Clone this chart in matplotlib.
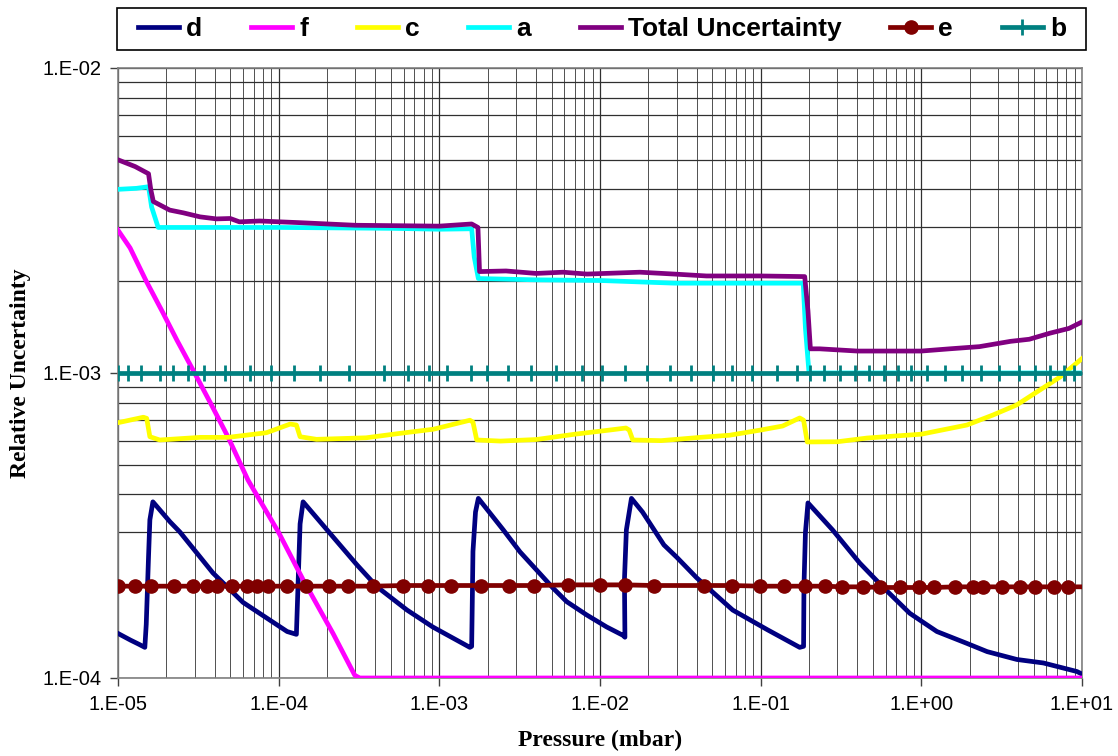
import numpy as np
import matplotlib
matplotlib.use("Agg")
import matplotlib.pyplot as plt
from matplotlib.patches import Rectangle
from matplotlib.ticker import FuncFormatter, LogLocator, NullFormatter

# Series (x = pressure in mbar)
d_x = [1e-5, 1.2e-5, 1.35e-5, 1.47e-5, 1.5e-5, 1.55e-5, 1.58e-5, 1.65e-5,
       2.11e-5, 2.43e-5, 3.9e-5, 6.0e-5, 1.13e-4, 1.29e-4, 1.32e-4, 1.36e-4, 1.42e-4,
       2.0e-4, 3.07e-4, 4.1e-4, 6.3e-4, 9.1e-4, 1.55e-3, 1.59e-3, 1.6e-3, 1.62e-3, 1.68e-3, 1.75e-3,
       2.5e-3, 3.18e-3, 4.03e-3, 5.11e-3, 6.2e-3, 8.26e-3, 1.1e-2, 1.39e-2, 1.43e-2, 1.42e-2, 1.46e-2, 1.57e-2,
       1.84e-2, 2.5e-2, 3.0e-2, 4.0e-2, 6.7e-2, 0.11, 0.175, 0.185, 0.186, 0.19, 0.197,
       0.28, 0.414, 0.575, 0.847, 1.25, 1.91, 2.57, 3.93, 5.75, 9.3, 10.0]
d_y = [1.40e-4, 1.33e-4, 1.29e-4, 1.26e-4, 1.5e-4, 2.5e-4, 3.3e-4, 3.78e-4,
       3.25e-4, 3.01e-4, 2.21e-4, 1.77e-4, 1.42e-4, 1.39e-4, 2.0e-4, 3.2e-4, 3.78e-4,
       3.06e-4, 2.35e-4, 1.99e-4, 1.67e-4, 1.47e-4, 1.26e-4, 1.27e-4, 1.6e-4, 2.6e-4, 3.5e-4, 3.88e-4,
       3.06e-4, 2.59e-4, 2.26e-4, 1.97e-4, 1.78e-4, 1.61e-4, 1.47e-4, 1.38e-4, 1.36e-4, 2.1e-4, 3.06e-4, 3.88e-4,
       3.5e-4, 2.73e-4, 2.49e-4, 2.13e-4, 1.67e-4, 1.44e-4, 1.26e-4, 1.27e-4, 2.0e-4, 3.0e-4, 3.75e-4,
       3.06e-4, 2.38e-4, 1.99e-4, 1.63e-4, 1.42e-4, 1.30e-4, 1.22e-4, 1.15e-4, 1.12e-4, 1.05e-4, 1.03e-4]

f_x = [1e-5, 1.19e-5, 1.5e-5, 1.9e-5, 2.33e-5, 3.0e-5, 3.8e-5, 4.84e-5, 6.44e-5, 1.0e-4, 1.42e-4,
       2.18e-4, 2.98e-4, 3.2e-4, 1e-3, 10.0]
f_y = [2.94e-3, 2.57e-3, 2.0e-3, 1.58e-3, 1.28e-3, 1.0e-3, 7.9e-4, 6.17e-4, 4.46e-4, 3.0e-4, 2.1e-4,
       1.4e-4, 1.02e-4, 1.0e-4, 1.0e-4, 1.0e-4]

c_x = [1e-5, 1.44e-5, 1.51e-5, 1.58e-5, 1.82e-5, 3.24e-5, 4.84e-5, 8.4e-5, 1.18e-4, 1.29e-4,
       1.36e-4, 1.72e-4, 3.5e-4, 5.7e-4, 9.2e-4, 1.55e-3, 1.62e-3, 1.71e-3, 2.4e-3, 4e-3,
       7e-3, 1.15e-2, 1.45e-2, 1.52e-2, 1.6e-2, 2.4e-2, 4.2e-2, 6.4e-2, 0.1, 0.137,
       0.175, 0.185, 0.195, 0.3, 0.46, 1.0, 1.92, 2.79, 3.93, 7.3, 10.1]
c_y = [6.87e-4, 7.16e-4, 7.1e-4, 6.18e-4, 6.03e-4, 6.15e-4, 6.15e-4, 6.37e-4, 6.8e-4, 6.75e-4,
       6.18e-4, 6.06e-4, 6.13e-4, 6.34e-4, 6.54e-4, 7.0e-4, 6.9e-4, 6.03e-4, 5.98e-4, 6.05e-4,
       6.3e-4, 6.5e-4, 6.6e-4, 6.5e-4, 6.03e-4, 6.0e-4, 6.15e-4, 6.25e-4, 6.5e-4, 6.7e-4,
       7.12e-4, 7.0e-4, 5.94e-4, 5.95e-4, 6.12e-4, 6.3e-4, 6.75e-4, 7.28e-4, 7.86e-4, 9.7e-4, 1.12e-3]

a_x = [1e-5, 1.3e-5, 1.55e-5, 1.62e-5, 1.78e-5, 3e-5, 1e-4, 5e-4, 1.0e-3, 1.59e-3, 1.65e-3,
       1.75e-3, 4e-3, 1e-2, 2.9e-2, 0.1, 0.184, 0.19, 0.2, 0.5, 1.0, 10.0]
a_y = [4.0e-3, 4.03e-3, 4.08e-3, 3.5e-3, 3.0e-3, 3.0e-3, 3.0e-3, 2.98e-3, 2.96e-3, 2.97e-3, 2.4e-3,
       2.04e-3, 2.02e-3, 2.01e-3, 1.97e-3, 1.97e-3, 1.97e-3, 1.4e-3, 1.0e-3, 1.0e-3, 1.0e-3, 1.0e-3]

tot_x = [1e-5, 1.28e-5, 1.55e-5, 1.6e-5, 1.66e-5, 2.1e-5, 2.55e-5, 3.24e-5, 4.1e-5, 5e-5,
         5.7e-5, 7.6e-5, 1.36e-4, 3e-4, 1e-3, 1.59e-3, 1.74e-3, 1.78e-3, 2.6e-3, 4e-3,
         5.9e-3, 8.3e-3, 1.77e-2, 2.9e-2, 4.6e-2, 0.1, 0.188, 0.197, 0.204, 0.233,
         0.4, 0.55, 1.0, 1.5, 2.3, 3.6, 4.7, 6.3, 8.3, 10.0]
tot_y = [5.0e-3, 4.75e-3, 4.5e-3, 4.0e-3, 3.65e-3, 3.42e-3, 3.35e-3, 3.25e-3, 3.2e-3, 3.21e-3,
         3.13e-3, 3.15e-3, 3.11e-3, 3.05e-3, 3.03e-3, 3.08e-3, 3.0e-3, 2.15e-3, 2.16e-3, 2.12e-3,
         2.14e-3, 2.11e-3, 2.14e-3, 2.11e-3, 2.08e-3, 2.08e-3, 2.07e-3, 1.6e-3, 1.2e-3, 1.2e-3,
         1.18e-3, 1.18e-3, 1.18e-3, 1.2e-3, 1.22e-3, 1.27e-3, 1.29e-3, 1.35e-3, 1.40e-3, 1.47e-3]

e_x = [1e-5, 1.28e-5, 1.60e-5, 2.23e-5, 2.94e-5, 3.56e-5, 4.15e-5, 5.14e-5, 6.32e-5, 7.29e-5,
       8.54e-5, 1.13e-4, 1.49e-4, 2.05e-4, 2.71e-4, 3.88e-4, 5.96e-4, 8.53e-4, 1.18e-3, 1.83e-3,
       2.71e-3, 3.88e-3, 6.29e-3, 9.98e-3, 1.44e-2, 2.17e-2, 4.43e-2, 6.65e-2, 9.89e-2, 0.140,
       0.188, 0.251, 0.321, 0.434, 0.557, 0.735, 0.969, 1.20, 1.62, 2.10,
       2.42, 3.18, 4.10, 5.08, 6.68, 8.19, 10.1]
e_y = [2.0e-4, 2.0e-4, 2.0e-4, 2.0e-4, 2.0e-4, 2.0e-4, 2.0e-4, 2.0e-4, 2.0e-4, 2.0e-4,
       2.0e-4, 2.0e-4, 2.0e-4, 2.0e-4, 2.0e-4, 2.0e-4, 2.01e-4, 2.01e-4, 2.01e-4, 2.01e-4,
       2.01e-4, 2.01e-4, 2.02e-4, 2.02e-4, 2.02e-4, 2.01e-4, 2.01e-4, 2.01e-4, 2.0e-4, 2.0e-4,
       2.0e-4, 2.0e-4, 1.99e-4, 1.99e-4, 1.98e-4, 1.98e-4, 1.98e-4, 1.98e-4, 1.99e-4, 1.99e-4,
       1.99e-4, 1.99e-4, 1.99e-4, 1.99e-4, 1.99e-4, 1.99e-4, 1.99e-4]

b_x = [1e-5, 1.15e-5, 1.40e-5, 1.84e-5, 2.19e-5, 2.74e-5, 3.43e-5, 4.63e-5, 6.63e-5, 8.96e-5,
       1.24e-4, 1.81e-4, 2.75e-4, 4.52e-4, 6.40e-4, 8.61e-4, 1.11e-3, 1.57e-3, 1.99e-3, 2.66e-3,
       3.72e-3, 5.32e-3, 7.68e-3, 1.03e-2, 1.43e-2, 1.95e-2, 2.72e-2, 3.68e-2, 5.02e-2, 6.60e-2,
       8.88e-2, 0.126, 0.168, 0.204, 0.249, 0.313, 0.388, 0.475, 0.584, 0.717,
       0.865, 1.09, 1.40, 1.78, 2.34, 3.05, 4.07, 5.12, 6.35, 7.69, 8.89, 10.0]
b_y = [1.0e-3] * len(b_x)

fig = plt.figure(figsize=(11.18, 7.56), dpi=100)
ax = fig.add_axes([0.1055, 0.1032, 0.8623, 0.8069])

lw = 3.4
ax.plot(d_x, d_y, color="#000080", lw=lw, label="d", zorder=3)
ax.plot(f_x, f_y, color="#FF00FF", lw=lw, label="f", zorder=3)
ax.plot(c_x, c_y, color="#FFFF00", lw=lw, label="c", zorder=3)
ax.plot(a_x, a_y, color="#00FFFF", lw=lw, label="a", zorder=3)
ax.plot(tot_x, tot_y, color="#800080", lw=lw, label="Total Uncertainty", zorder=3)
ax.plot(e_x, e_y, color="#800000", lw=lw, marker="o", ms=9.5, mec="#800000",
        markevery=list(range(len(e_x) - 1)), label="e", zorder=4)
ax.plot(b_x, b_y, color="#008080", lw=lw, marker="+", ms=11, mew=2,
        markevery=list(range(len(b_x) - 1)), label="b", zorder=4)

ax.set_xscale("log")
ax.set_yscale("log")
ax.set_xlim(1e-5, 10)
ax.set_ylim(1e-4, 1e-2)

fmt = FuncFormatter(lambda v, p: "1.E%+03d" % int(round(np.log10(v))))
ax.xaxis.set_major_formatter(fmt)
ax.yaxis.set_major_formatter(fmt)
ax.xaxis.set_minor_locator(LogLocator(base=10, subs=np.arange(2, 10)))
ax.yaxis.set_minor_locator(LogLocator(base=10, subs=np.arange(2, 10)))
ax.xaxis.set_minor_formatter(NullFormatter())
ax.yaxis.set_minor_formatter(NullFormatter())

ax.tick_params(which="major", direction="out", length=6, width=1, color="#404040",
               labelsize=14.5, pad=6)
ax.tick_params(which="minor", length=0)
for lab in ax.get_xticklabels() + ax.get_yticklabels():
    lab.set_family("Liberation Sans")

ax.grid(True, which="major", axis="both", color="#303030", lw=0.9)
ax.grid(True, which="minor", axis="y", color="#303030", lw=0.9)
ax.grid(True, which="minor", axis="x", color="#505050", lw=0.7)
ax.set_axisbelow(True)
for s in ax.spines.values():
    s.set_color("#808080")
    s.set_linewidth(1.2)

ax.set_xlabel("Pressure (mbar)", family="Liberation Serif", fontweight="bold",
              fontsize=17, labelpad=12)
ax.set_ylabel("Relative Uncertainty", family="Liberation Serif", fontweight="bold",
              fontsize=17, labelpad=8)

# legend box drawn as its own frame to get Excel-like wide side margins
W, H = 1118.0, 756.0
fig.patches.append(Rectangle((117 / W, 1 - 50 / H), (1086 - 117) / W, 42 / H,
                             transform=fig.transFigure, fill=False,
                             edgecolor="black", lw=1.2, zorder=5))
leg = fig.legend(loc="center", bbox_to_anchor=(0.5385, 1 - 29 / H), ncol=7,
                 prop={"family": "Liberation Sans", "weight": "bold", "size": 19},
                 frameon=False, handlelength=1.55, handletextpad=0.27,
                 columnspacing=1.85, borderpad=0.25, borderaxespad=0)

fig.savefig("out.png", dpi=100)
